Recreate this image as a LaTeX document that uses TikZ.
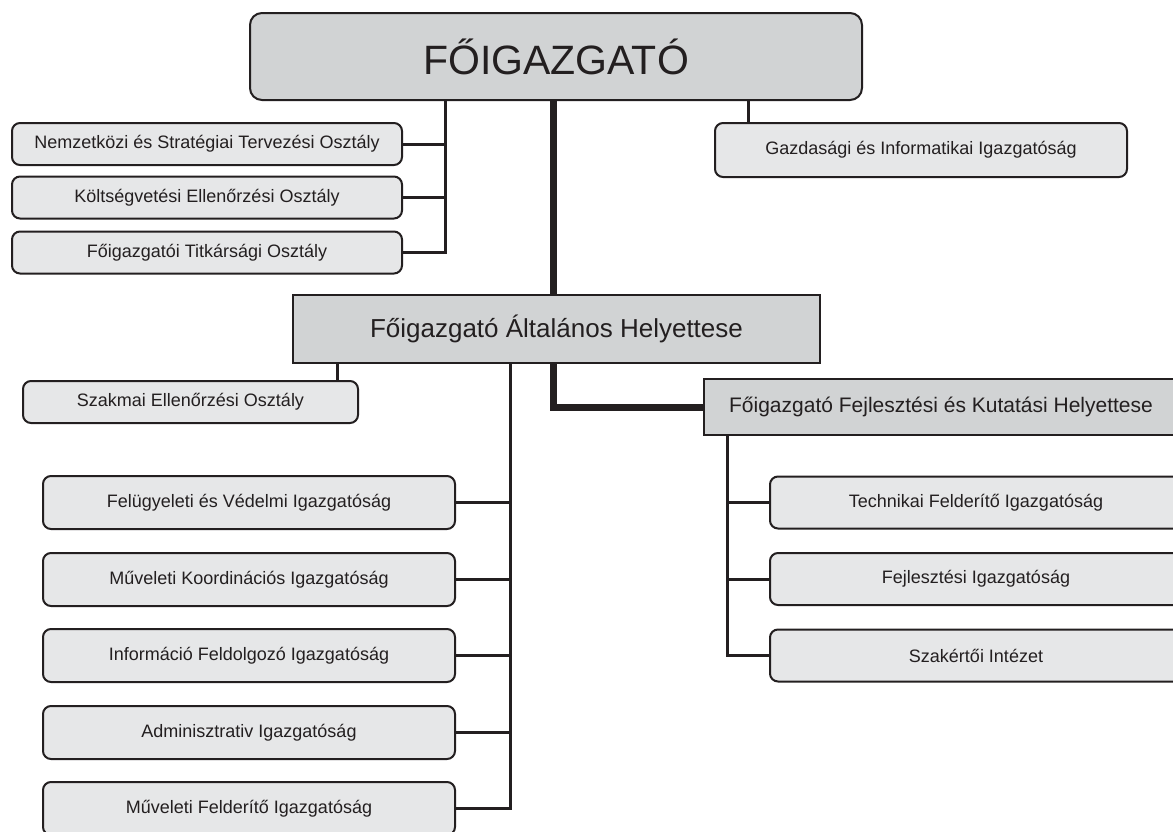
\documentclass[tikz,border=0pt]{standalone}
\usepackage{fontspec}
\setmainfont{Liberation Sans}
\definecolor{ink}{HTML}{231F20}
\definecolor{topfill}{HTML}{D1D3D4}
\definecolor{boxfill}{HTML}{E6E7E8}
\begin{document}
\begin{tikzpicture}[x=1pt,y=-1pt,
  every node/.style={inner sep=0pt,outer sep=0pt,text=ink},
  topbox/.style={draw=ink,line width=2pt,fill=topfill,rounded corners=12pt,minimum width=612pt,minimum height=87pt,font=\fontsize{41}{45}\selectfont},
  headbox/.style={draw=ink,line width=2pt,fill=topfill,minimum height=#1,font=\fontsize{26}{30}\selectfont},
  subhead/.style={draw=ink,line width=2pt,fill=topfill,font=\fontsize{21}{25}\selectfont},
  unit/.style={draw=ink,line width=2pt,fill=boxfill,rounded corners=8pt,font=\fontsize{18}{22}\selectfont},
  link/.style={draw=ink,line width=3pt,line join=miter},
  mainlink/.style={draw=ink,line width=7pt,line join=miter}
]
\useasboundingbox (0,0) rectangle (1173,831);
\clip (0,0) rectangle (1173,831);
\fill[white] (0,0) rectangle (1173,831);

% nodes
\node[topbox] (top) at (556,56.5) {FŐIGAZGATÓ};

\node[unit,minimum width=390pt,minimum height=42pt] (n1) at (207,144) {Nemzetközi és Stratégiai Tervezési Osztály};
\node[unit,minimum width=390pt,minimum height=42pt] (n2) at (207,197.5) {Költségvetési Ellenőrzési Osztály};
\node[unit,minimum width=390pt,minimum height=42pt] (n3) at (207,252.5) {Főigazgatói Titkársági Osztály};

\node[unit,minimum width=412pt,minimum height=54pt] (gi) at (921,150) {Gazdasági és Informatikai Igazgatóság};

\node[headbox=68pt,minimum width=527pt] (deputy) at (556.5,329) {Főigazgató Általános Helyettese};

\node[unit,minimum width=335pt,minimum height=42pt] (sz) at (190.5,402) {Szakmai Ellenőrzési Osztály};

\node[subhead,minimum width=474pt,minimum height=56pt] (ffkh) at (941,407) {Főigazgató Fejlesztési és Kutatási Helyettese};

\node[unit,minimum width=412pt,minimum height=52pt] (r1) at (976,502.5) {Technikai Felderítő Igazgatóság};
\node[unit,minimum width=412pt,minimum height=52pt] (r2) at (976,579) {Fejlesztési Igazgatóság};
\node[unit,minimum width=412pt,minimum height=52pt] (r3) at (976,655.5) {Szakértői Intézet};

\node[unit,minimum width=412pt,minimum height=53pt] (l1) at (249,502.5) {Felügyeleti és Védelmi Igazgatóság};
\node[unit,minimum width=412pt,minimum height=53pt] (l2) at (249,579.5) {Műveleti Koordinációs Igazgatóság};
\node[unit,minimum width=412pt,minimum height=53pt] (l3) at (249,655.5) {Információ Feldolgozó Igazgatóság};
\node[unit,minimum width=412pt,minimum height=53pt] (l4) at (249,732.5) {Adminisztrativ Igazgatóság};
\node[unit,minimum width=412pt,minimum height=53pt] (l5) at (249,808.5) {Műveleti Felderítő Igazgatóság};

% connector guide coordinates
\coordinate (bx) at (445,0);
\coordinate (gx) at (748,0);
\coordinate (mx) at (553,0);
\coordinate (sx) at (337,0);
\coordinate (lx) at (510,0);
\coordinate (rx) at (727,0);

% connectors from top
\draw[link] (bx |- top.south) -- (bx |- n3.east) -- (n3.east);
\draw[link] (n1.east) -- (n1.east -| bx);
\draw[link] (n2.east) -- (n2.east -| bx);
\draw[link] (gx |- top.south) -- (gx |- gi.north);
\draw[mainlink] (mx |- top.south) -- (mx |- deputy.north);

% connectors from deputy
\draw[link] (sx |- deputy.south) -- (sx |- sz.north);
\draw[mainlink] (mx |- deputy.south) |- (ffkh.west);
\draw[link] (lx |- deputy.south) -- (lx |- l5.east) -- (l5.east);
\draw[link] (l1.east) -- (l1.east -| lx);
\draw[link] (l2.east) -- (l2.east -| lx);
\draw[link] (l3.east) -- (l3.east -| lx);
\draw[link] (l4.east) -- (l4.east -| lx);

% connectors from ffkh
\draw[link] (rx |- ffkh.south) -- (rx |- r3.west) -- (r3.west);
\draw[link] (r1.west) -- (r1.west -| rx);
\draw[link] (r2.west) -- (r2.west -| rx);
\end{tikzpicture}
\end{document}
